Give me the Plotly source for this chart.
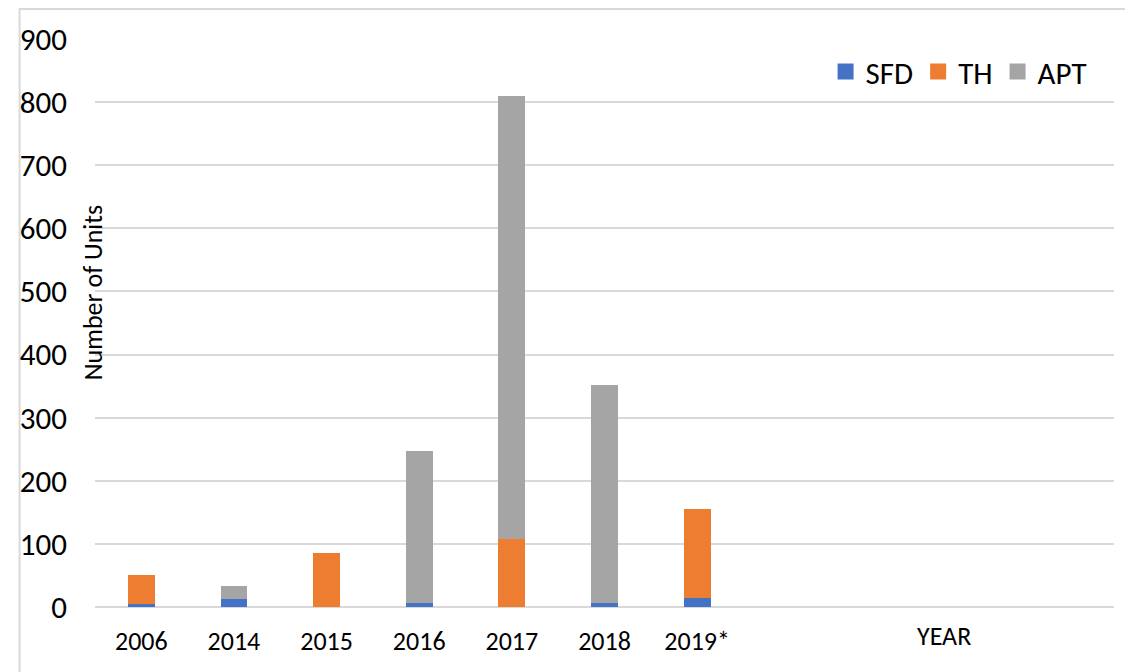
import plotly.graph_objects as go

years = ["2006", "2014", "2015", "2016", "2017", "2018", "2019*"]
sfd = [4, 13, 0, 7, 0, 7, 15]
th = [47, 0, 86, 0, 107, 0, 140]
apt = [0, 20, 0, 240, 703, 345, 0]
series_names = ["SFD", "TH", "APT"]
colors = ["#4472C4", "#ED7D31", "#A5A5A5"]
y_ticks = [0, 100, 200, 300, 400, 500, 600, 700, 800, 900]

FONT = "Calibri, Carlito, Lato, sans-serif"

fig = go.Figure()
for name, vals, c in zip(series_names, [sfd, th, apt], colors):
    fig.add_trace(go.Bar(x=years, y=vals, name=name, marker=dict(color=c, line=dict(width=0)),
                         showlegend=False))
    # legend proxy with a larger square symbol
    fig.add_trace(go.Scatter(x=[None], y=[None], mode="markers", name=name,
                             marker=dict(symbol="square", size=18, color=c)))

# page body has an 8px margin, so the figure is sized/offset to compensate
fig.update_layout(
    barmode="stack",
    bargap=0.71,
    width=1125, height=664,
    margin=dict(l=79, r=19, t=29, b=65),
    paper_bgcolor="white", plot_bgcolor="white",
    font=dict(family=FONT, color="#000000"),
    legend=dict(orientation="h", traceorder="normal", x=0.978, xanchor="right", y=0.942,
                yanchor="middle", font=dict(size=31, family=FONT), bgcolor="rgba(0,0,0,0)",
                itemwidth=30, tracegroupgap=0),
    xaxis=dict(type="category", categoryorder="array", categoryarray=years,
               range=[-0.5, 10.5], showgrid=False, showline=False, ticks="",
               tickfont=dict(size=26, family=FONT), ticklabelstandoff=16, zeroline=False),
    yaxis=dict(range=[0, 900], tickvals=y_ticks, showgrid=True, gridcolor="#d9d9d9", gridwidth=2,
               zeroline=True, zerolinecolor="#d9d9d9", zerolinewidth=2,
               showline=False, ticks="", tickfont=dict(size=31, family=FONT),
               ticklabelstandoff=27),
)

# axis titles placed as in the reference
fig.add_annotation(text="Number of Units", textangle=-90, xref="paper", yref="paper",
                   x=-0.002, y=0.554, xanchor="center", yanchor="middle", showarrow=False,
                   font=dict(size=26, family=FONT, color="#000000"))
fig.add_annotation(text="YEAR", xref="paper", yref="paper", x=0.8335, y=-0.051,
                   xanchor="center", yanchor="middle", showarrow=False,
                   font=dict(size=26, family=FONT, color="#000000"))

# chart border
fig.add_shape(type="rect", xref="paper", yref="paper", x0=-0.074, x1=1.1, y0=-0.3, y1=1.0526,
              line=dict(color="#d9d9d9", width=2), fillcolor="rgba(0,0,0,0)", layer="below")

fig.write_html("out.html")
